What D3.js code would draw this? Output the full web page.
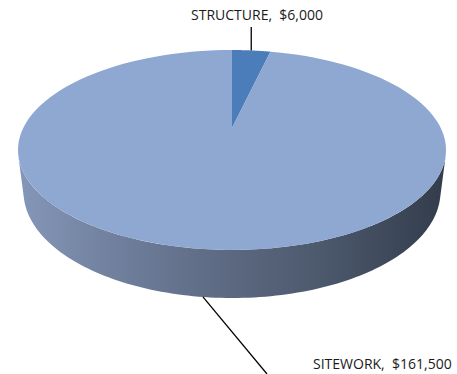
<!DOCTYPE html>
<html>
<head>
<meta charset="utf-8">
<script src="https://cdn.jsdelivr.net/npm/d3@7"></script>
<style>
  html, body { margin: 0; padding: 0; background: #fff; }
  svg { display: block; }
  text { font-family: "Open Sans", Lato, sans-serif; font-size: 14px; fill: #1a1a1a; }
</style>
</head>
<body>
<script>
// Project cost breakdown
const categories = ["STRUCTURE", "SITEWORK"];
const values = [6000, 161500];
const topColors = ["#4a7dba", "#8ea8d1"];

const W = 457, H = 374;
const svg = d3.select("body").append("svg").attr("width", W).attr("height", H);

// Simple perspective camera looking down at a disk of radius 1
const cx = 232, cy = 128;
const D = 4.05, alpha = 27.1 * Math.PI / 180, k = 845.6, thick = 0.225;
const sa = Math.sin(alpha), ca = Math.cos(alpha);
function project(theta, Y, rad = 1) {
  const X = rad * Math.sin(theta), Z = rad * Math.cos(theta);
  const depth = -Y * sa + D + Z * ca;
  const up = Y * ca + Z * sa;
  return [cx + k * X / depth, cy - k * up / depth];
}

const pie = d3.pie().sort(null).value(d => d)(values);
const fmt = d3.format(",");
const labelText = i => `${categories[i]},\u00a0\u00a0$${fmt(values[i])}`;

// Side wall shading
const defs = svg.append("defs");
const grad = defs.append("linearGradient").attr("id", "side")
  .attr("gradientUnits", "userSpaceOnUse")
  .attr("x1", 18).attr("x2", 446).attr("y1", 0).attr("y2", 0);
[[0, "#8597b9"], [0.2, "#7282a0"], [0.45, "#5f6c85"], [0.7, "#4d596d"], [1, "#323c4c"]]
  .forEach(([o, c]) => grad.append("stop").attr("offset", o).attr("stop-color", c));

// Outer wall is visible where cos(theta) < -1/(D cos(alpha))
const tVis0 = Math.acos(-1 / (D * ca));
const tVis1 = 2 * Math.PI - tVis0;
const line = d3.line();
function arcPts(a0, a1, Y, n = 120) {
  return d3.range(n + 1).map(i => project(a0 + (a1 - a0) * i / n, Y));
}

pie.forEach(p => {
  const a0 = Math.max(p.startAngle, tVis0), a1 = Math.min(p.endAngle, tVis1);
  if (a1 <= a0) return;
  const pts = arcPts(a0, a1, 0).concat(arcPts(a1, a0, -thick));
  svg.append("path").attr("d", line(pts) + "Z").attr("fill", "url(#side)");
});

// Top faces
pie.forEach((p, i) => {
  const pts = [project(0, 0, 0)].concat(arcPts(p.startAngle, p.endAngle, 0));
  svg.append("path").attr("d", line(pts) + "Z").attr("fill", topColors[i]);
});

// Labels with leader lines
const mid0 = (pie[0].startAngle + pie[0].endAngle) / 2;
const m0 = project(mid0, 0);
svg.append("line").attr("x1", m0[0]).attr("x2", m0[0]).attr("y1", m0[1]).attr("y2", 27)
  .attr("stroke", "#000").attr("stroke-width", 1.3);
svg.append("text").attr("x", 257).attr("y", 20).attr("text-anchor", "middle")
  .text(labelText(0));

const mid1 = (pie[1].startAngle + pie[1].endAngle) / 2;
const m1 = project(mid1, -thick);
svg.append("line").attr("x1", m1[0]).attr("y1", m1[1]).attr("x2", 267).attr("y2", 374)
  .attr("stroke", "#000").attr("stroke-width", 1.3);
svg.append("text").attr("x", 313).attr("y", 369)
  .text(labelText(1));
</script>
</body>
</html>
